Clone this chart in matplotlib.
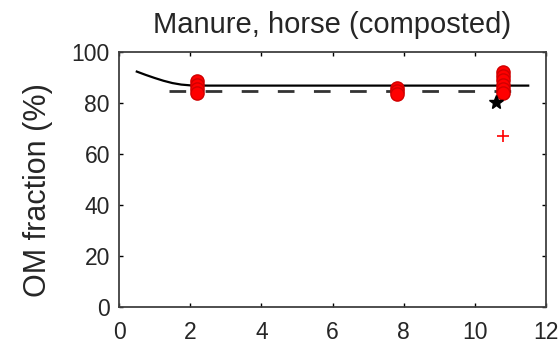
import matplotlib
matplotlib.use('Agg')
import matplotlib.pyplot as plt

plt.rcParams['font.family'] = ['Liberation Sans', 'DejaVu Sans']

# fitted curve (solid)
fit_x = [0.5, 0.75, 1.0, 1.25, 1.5, 1.75, 2.0, 2.5, 11.5]
fit_y = [92.3, 91.0, 89.8, 88.7, 87.8, 87.2, 86.9, 86.8, 86.8]
# mean line (dashed)
mean_x = [1.4, 11.3]
mean_y = [84.8, 84.8]
# measurements
obs_x = [2.2, 2.2, 2.2, 2.2, 7.8, 7.8, 7.8, 10.8, 10.8, 10.8, 10.8, 10.8, 10.8]
obs_y = [88.5, 87.0, 85.5, 84.0, 86.0, 84.5, 83.5, 92.0, 90.5, 89.0, 87.0, 85.5, 84.0]
star_x = [10.6]
star_y = [80.5]
out_x = [10.8]
out_y = [67.0]

fig = plt.figure(figsize=(5.6, 3.44), dpi=100)
ax = fig.add_axes([0.2125, 0.1076, 0.7625, 0.7414])

ax.plot(fit_x, fit_y, color='black', lw=1.6, zorder=3)
ax.plot(mean_x, mean_y, color='#333333', lw=2.0, dashes=(6, 7), zorder=2)
ax.plot(obs_x, obs_y, 'o', color='red', mec='#d00000', ms=9.5, zorder=4)
ax.plot(star_x, star_y, '*', color='black', ms=10, zorder=5)
ax.plot(out_x, out_y, '+', color='red', ms=9, mew=1.2, zorder=5)

ax.set_xlim(0, 12)
ax.set_ylim(0, 100)
ax.set_xticks(range(0, 13, 2))
ax.set_yticks(range(0, 101, 20))
ax.tick_params(direction='in', length=3, width=1, top=True, right=True,
               labelsize=16.5, labelcolor='#262626')
ax.tick_params(axis='x', pad=10)
ax.tick_params(axis='y', pad=6.5)
for s in ax.spines.values():
    s.set_linewidth(1.3)
    s.set_color('#404040')

ax.set_title('Manure, horse (composted)', fontsize=21, color='#262626', pad=13.5)
ax.set_ylabel('OM fraction (%)', fontsize=22, color='#262626')
ax.yaxis.set_label_coords(-0.155, 0.46)

fig.savefig('out.png', dpi=100)
